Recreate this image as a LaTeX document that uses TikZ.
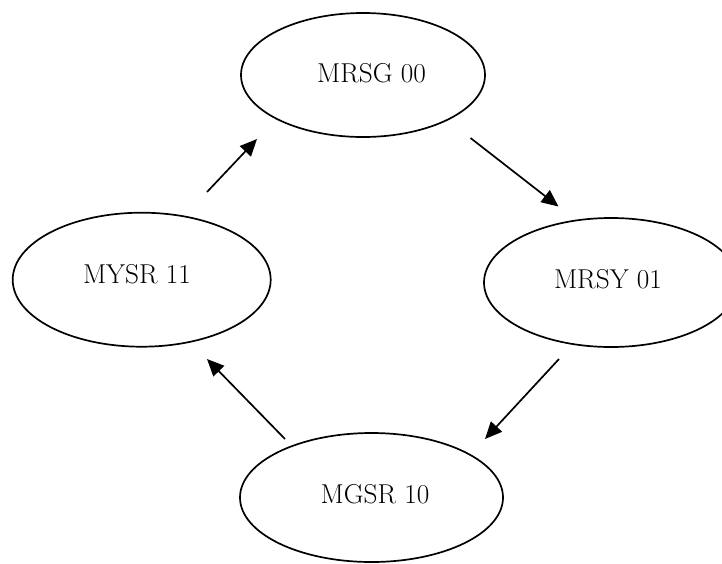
\documentclass[tikz,border=0pt]{standalone}
\usetikzlibrary{arrows.meta,shapes.geometric}
\begin{document}
\begin{tikzpicture}[x=1pt,y=-1pt,
  state/.style={draw,ellipse,line width=1.7pt,inner sep=0pt},
  statelabel/.style={anchor=base,inner sep=0pt,font=\fontsize{27.3}{32}\selectfont},
  trans/.style={line width=1.7pt,-{Triangle[length=17pt,width=15pt]}}]
\useasboundingbox (0,0) rectangle (722,563);
% the four states of the cycle
\node[state,minimum width=244pt,minimum height=124pt] (s00) at (363,75) {};
\node[state,minimum width=254pt,minimum height=129pt] (s01) at (611,282.5) {};
\node[state,minimum width=263pt,minimum height=129pt] (s10) at (371.5,497.5) {};
\node[state,minimum width=258pt,minimum height=134pt] (s11) at (141.7,279.7) {};
\node[statelabel] (t00) at (371.5,82) {MRSG 00};
\node[statelabel] (t01) at (608,288) {MRSY 01};
\node[statelabel] (t10) at (375,503) {MGSR 10};
\node[statelabel] (t11) at (137,283) {MYSR 11};
% transition end points
\coordinate (a1s) at (470.5,138);
\coordinate (a1e) at (558.5,206.5);
\coordinate (a2s) at (559,359);
\coordinate (a2e) at (485,439);
\coordinate (a3s) at (285,439);
\coordinate (a3e) at (207,359);
\coordinate (a4s) at (207,192);
\coordinate (a4e) at (257,139);
\draw[trans] (a1s) -- (a1e);
\draw[trans] (a2s) -- (a2e);
\draw[trans] (a3s) -- (a3e);
\draw[trans] (a4s) -- (a4e);
\end{tikzpicture}
\end{document}
